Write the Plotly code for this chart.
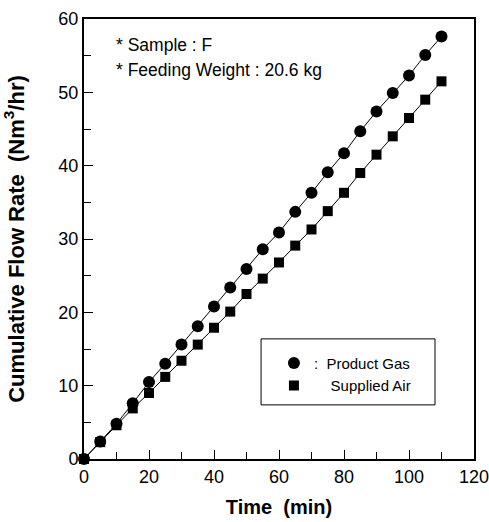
import plotly.graph_objects as go

time_min = [0, 5, 10, 15, 20, 25, 30, 35, 40, 45, 50, 55, 60, 65, 70, 75, 80, 85, 90, 95, 100, 105, 110]
product_gas = [0, 2.4, 4.8, 7.6, 10.5, 13.0, 15.6, 18.1, 20.8, 23.4, 25.9, 28.6, 30.9, 33.7, 36.3, 39.1,
               41.7, 44.7, 47.4, 49.9, 52.3, 55.1, 57.6]
supplied_air = [0, 2.3, 4.6, 6.9, 9.0, 11.2, 13.4, 15.6, 17.9, 20.1, 22.5, 24.6, 26.8, 29.1, 31.3, 33.8,
                36.3, 39.0, 41.5, 44.0, 46.5, 49.0, 51.5]
series_names = [":  Product Gas", "\u00a0\u00a0\u00a0\u00a0Supplied Air"]
x_ticks = [0, 20, 40, 60, 80, 100, 120]
y_ticks = [0, 10, 20, 30, 40, 50, 60]

FONT = "Liberation Sans, Arial, sans-serif"

fig = go.Figure()
fig.add_trace(go.Scatter(x=time_min, y=product_gas, mode="lines+markers",
                         line=dict(color="black", width=1),
                         marker=dict(symbol="circle", size=12, color="black"),
                         showlegend=False, cliponaxis=False))
fig.add_trace(go.Scatter(x=time_min, y=supplied_air, mode="lines+markers",
                         line=dict(color="black", width=1),
                         marker=dict(symbol="square", size=10, color="black"),
                         showlegend=False, cliponaxis=False))
# legend-only entries (markers only)
fig.add_trace(go.Scatter(x=[None], y=[None], mode="markers", name=series_names[0],
                         marker=dict(symbol="circle", size=12, color="black")))
fig.add_trace(go.Scatter(x=[None], y=[None], mode="markers", name=series_names[1],
                         marker=dict(symbol="square", size=10, color="black")))

axis_common = dict(showline=True, linecolor="black", linewidth=2, mirror=True,
                   ticks="inside", ticklen=9, tickwidth=1, tickcolor="black",
                   showgrid=False, zeroline=False, ticklabeloverflow="allow",
                   automargin=False,
                   tickfont=dict(family=FONT, size=18, color="black"),
                   minor=dict(ticks="inside", ticklen=7, tickwidth=1, tickcolor="black"))

fig.update_xaxes(range=[0, 120], tickvals=x_ticks, minor_dtick=10,
                 title=dict(text="<b>Time  (min)</b>", font=dict(family=FONT, size=20, color="black"),
                            standoff=14),
                 **axis_common)
fig.update_yaxes(range=[0, 60], tickvals=y_ticks, minor_dtick=5,
                 title=dict(text="<b>Cumulative Flow Rate  (Nm<sup>3</sup>/hr)</b>",
                            font=dict(family=FONT, size=22, color="black"), standoff=28),
                 **axis_common)

fig.add_annotation(x=0.078, y=0.941, xref="paper", yref="paper", xanchor="left", yanchor="middle",
                   text="* Sample : F", showarrow=False,
                   font=dict(family=FONT, size=17.5, color="black"))
fig.add_annotation(x=0.078, y=0.884, xref="paper", yref="paper", xanchor="left", yanchor="middle",
                   text="* Feeding Weight : 20.6 kg", showarrow=False,
                   font=dict(family=FONT, size=17.5, color="black"))

# legend frame
fig.add_shape(type="rect", xref="paper", yref="paper", x0=0.454, x1=0.9, y0=0.123, y1=0.273,
              line=dict(color="black", width=1), fillcolor="white", layer="below")

fig.update_layout(
    width=489, height=522,
    margin=dict(l=84, r=15, t=19, b=63, autoexpand=False),
    paper_bgcolor="white", plot_bgcolor="white",
    font=dict(family=FONT, color="black"),
    legend=dict(x=0.487, y=0.255, xanchor="left", yanchor="top",
                bgcolor="rgba(0,0,0,0)", borderwidth=0,
                font=dict(family=FONT, size=15, color="black"),
                itemwidth=30, tracegroupgap=0),
)

fig.write_html("out.html")
